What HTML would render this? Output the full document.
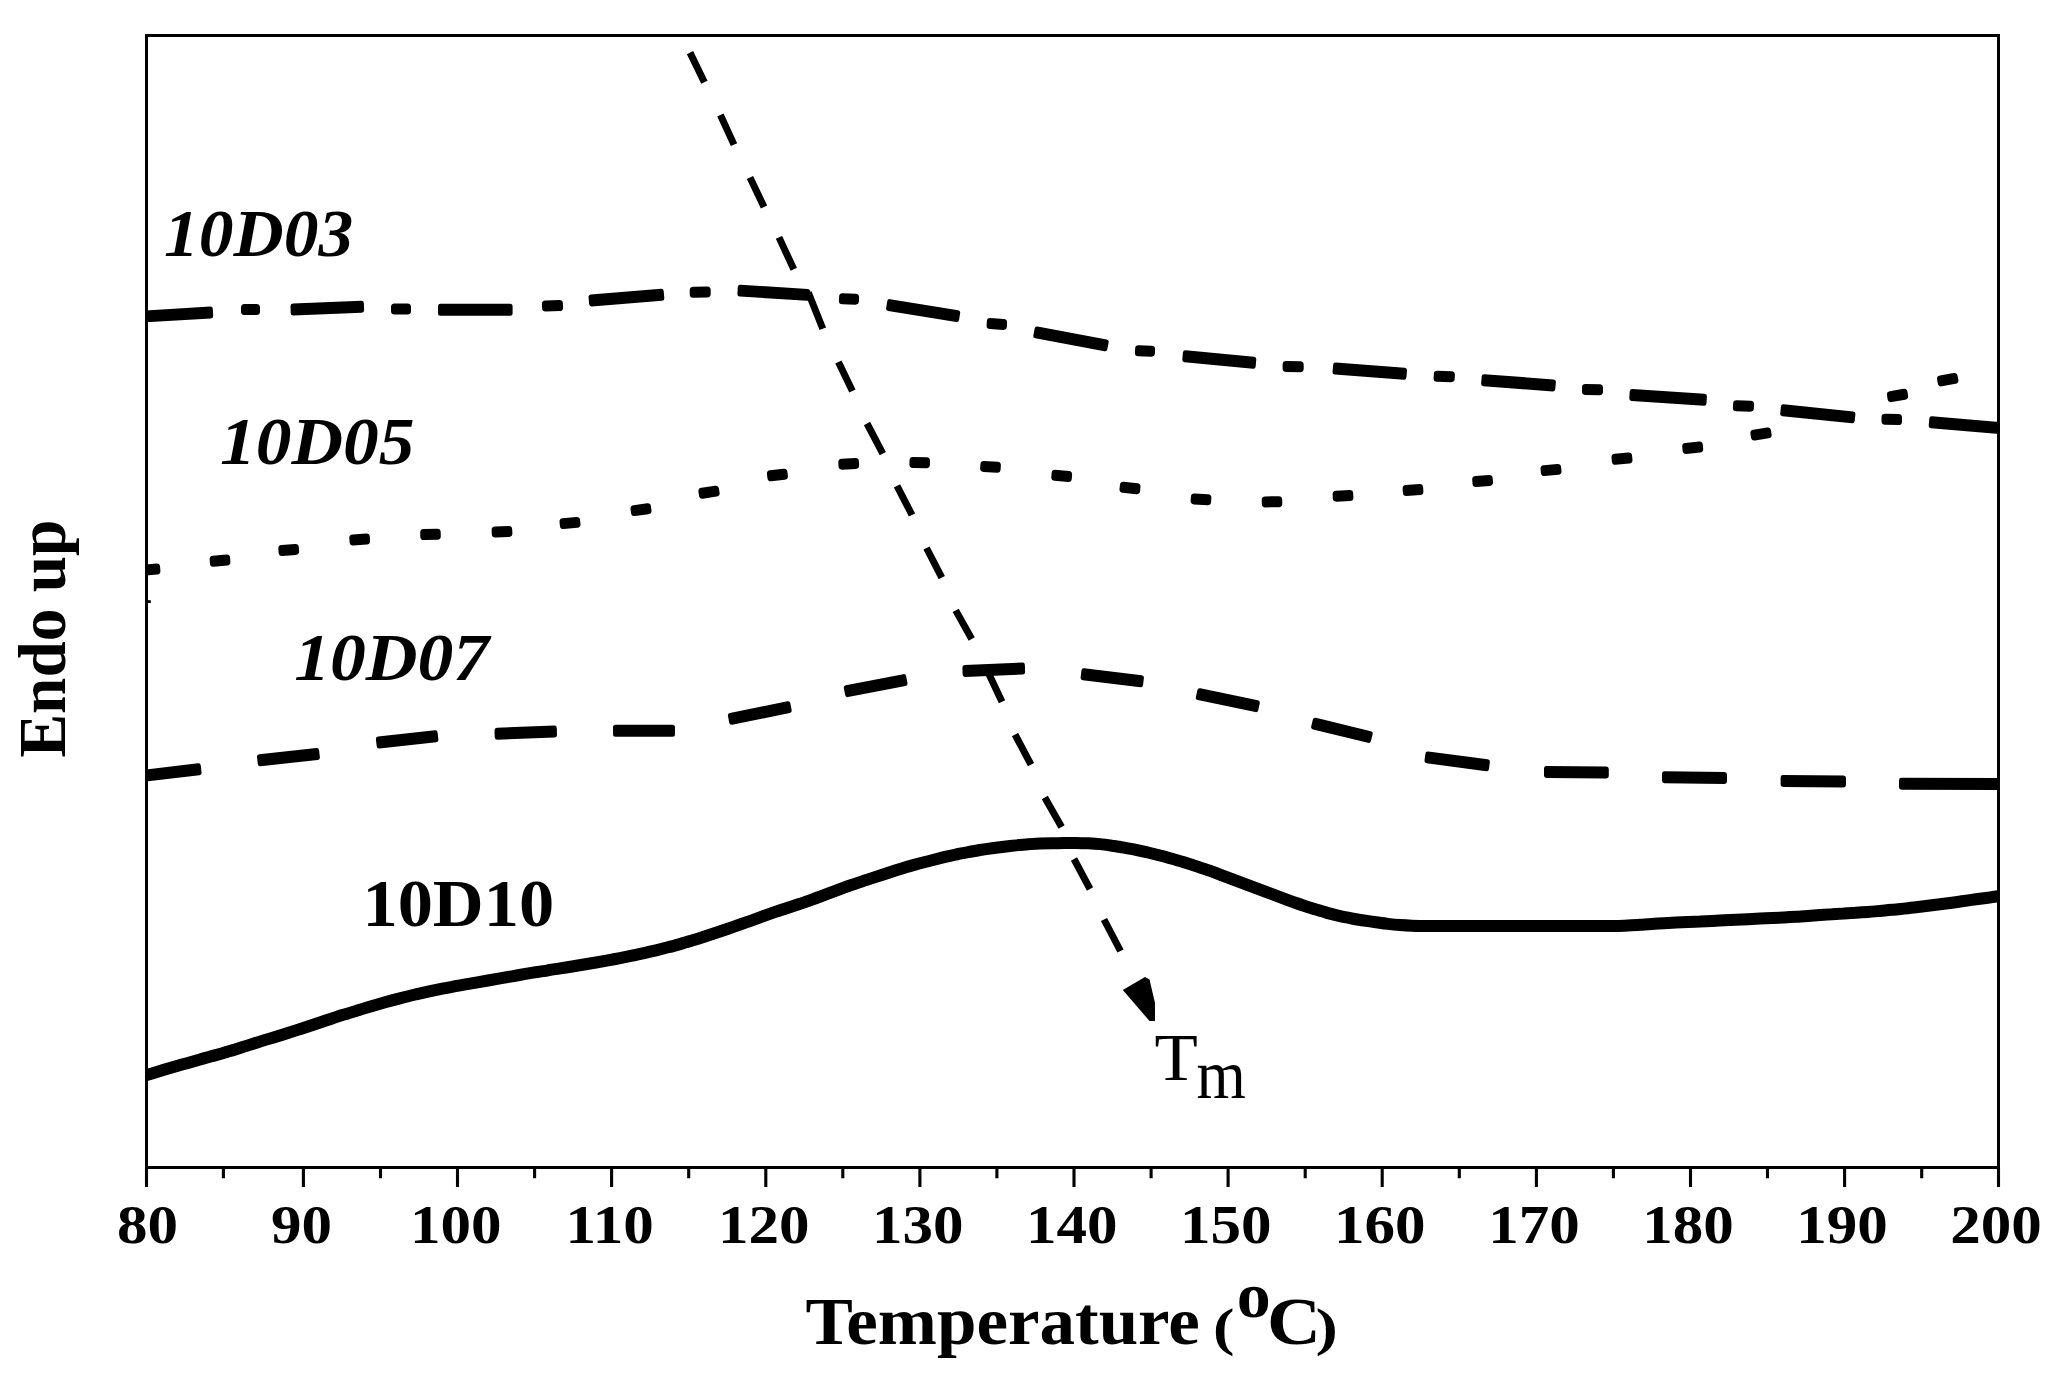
<!DOCTYPE html>
<html lang="en"><head><meta charset="utf-8"><title>DSC thermograms</title>
<style>html,body{margin:0;padding:0;background:#fff}body{width:2060px;height:1379px;overflow:hidden}svg{display:block}text{font-family:"Liberation Serif","DejaVu Serif",serif;fill:#000}</style></head><body>
<svg width="2060" height="1379" viewBox="0 0 2060 1379">
<rect width="2060" height="1379" fill="#fff"/>
<rect x="146.5" y="35.5" width="1852.0" height="1132.0" fill="none" stroke="#000" stroke-width="3"/>
<path d="M146.5 1167.5V1187M223.4 1167.5V1178.2M303.4 1167.5V1187M380.5 1167.5V1178.2M457.5 1167.5V1187M534.6 1167.5V1178.2M611.6 1167.5V1187M688.7 1167.5V1178.2M765.8 1167.5V1187M842.8 1167.5V1178.2M919.9 1167.5V1187M996.9 1167.5V1178.2M1074.0 1167.5V1187M1151.1 1167.5V1178.2M1228.1 1167.5V1187M1305.2 1167.5V1178.2M1382.2 1167.5V1187M1459.3 1167.5V1178.2M1536.4 1167.5V1187M1613.4 1167.5V1178.2M1690.5 1167.5V1187M1767.5 1167.5V1178.2M1844.6 1167.5V1187M1921.7 1167.5V1178.2M1998.5 1167.5V1187" stroke="#000" stroke-width="3.1" fill="none"/>
<path d="M146.5 601.6h4.3" stroke="#000" stroke-width="2.8"/>
<g font-weight="bold" font-size="55" text-anchor="middle">
<text transform="translate(147.6 1243.4) scale(1.11 1)">80</text>
<text transform="translate(301.6 1243.4) scale(1.11 1)">90</text>
<text transform="translate(455.7 1243.4) scale(1.11 1)">100</text>
<text transform="translate(609.7 1243.4) scale(1.11 1)">110</text>
<text transform="translate(763.7 1243.4) scale(1.11 1)">120</text>
<text transform="translate(917.8 1243.4) scale(1.11 1)">130</text>
<text transform="translate(1071.8 1243.4) scale(1.11 1)">140</text>
<text transform="translate(1225.8 1243.4) scale(1.11 1)">150</text>
<text transform="translate(1379.8 1243.4) scale(1.11 1)">160</text>
<text transform="translate(1533.9 1243.4) scale(1.11 1)">170</text>
<text transform="translate(1687.9 1243.4) scale(1.11 1)">180</text>
<text transform="translate(1841.9 1243.4) scale(1.11 1)">190</text>
<text transform="translate(1996.0 1243.4) scale(1.11 1)">200</text>
</g>
<clipPath id="c"><rect x="146.5" y="35.5" width="1852.0" height="1132.0"/></clipPath>
<g clip-path="url(#c)" fill="none" stroke="#000" stroke-linecap="butt">
<path d="M140.0 1077.0C142.0 1076.4 148.0 1074.6 152.0 1073.4C156.0 1072.2 160.0 1071.0 164.0 1069.8C168.0 1068.6 172.0 1067.5 176.0 1066.3C180.0 1065.2 184.0 1064.0 188.0 1062.9C192.0 1061.8 196.0 1060.6 200.0 1059.5C204.0 1058.4 208.0 1057.3 212.0 1056.1C216.0 1055.0 220.0 1053.9 224.0 1052.7C228.0 1051.6 232.0 1050.4 236.0 1049.2C240.0 1047.9 244.0 1046.7 248.0 1045.4C252.0 1044.1 256.0 1042.9 260.0 1041.6C264.0 1040.4 268.0 1039.2 272.0 1037.9C276.0 1036.7 280.0 1035.5 284.0 1034.3C288.0 1033.0 292.0 1031.7 296.0 1030.4C300.0 1029.1 304.0 1027.8 308.0 1026.5C312.0 1025.2 316.0 1023.8 320.0 1022.5C324.0 1021.1 328.0 1019.8 332.0 1018.5C336.0 1017.2 340.0 1015.8 344.0 1014.6C348.0 1013.3 352.0 1012.1 356.0 1010.9C360.0 1009.6 364.0 1008.4 368.0 1007.2C372.0 1006.1 376.0 1004.9 380.0 1003.8C384.0 1002.7 388.0 1001.5 392.0 1000.4C396.0 999.4 400.0 998.3 404.0 997.3C408.0 996.2 412.0 995.3 416.0 994.3C420.0 993.4 424.0 992.5 428.0 991.6C432.0 990.8 436.0 990.0 440.0 989.2C444.0 988.4 448.0 987.6 452.0 986.9C456.0 986.1 460.0 985.4 464.0 984.7C468.0 984.0 472.0 983.3 476.0 982.6C480.0 981.9 484.0 981.2 488.0 980.5C492.0 979.8 496.0 979.1 500.0 978.4C504.0 977.7 508.0 977.0 512.0 976.3C516.0 975.6 520.0 974.9 524.0 974.2C528.0 973.5 532.0 972.9 536.0 972.2C540.0 971.6 544.0 971.0 548.0 970.3C552.0 969.7 556.0 969.1 560.0 968.4C564.0 967.8 568.0 967.1 572.0 966.5C576.0 965.8 580.0 965.2 584.0 964.5C588.0 963.8 592.0 963.2 596.0 962.5C600.0 961.8 604.0 961.1 608.0 960.4C612.0 959.6 616.0 958.9 620.0 958.1C624.0 957.4 628.0 956.6 632.0 955.7C636.0 954.9 640.0 954.0 644.0 953.1C648.0 952.2 652.0 951.2 656.0 950.3C660.0 949.3 664.0 948.3 668.0 947.3C672.0 946.3 676.0 945.2 680.0 944.1C684.0 943.0 688.0 941.8 692.0 940.6C696.0 939.3 700.0 938.1 704.0 936.8C708.0 935.5 712.0 934.1 716.0 932.8C720.0 931.4 724.0 930.1 728.0 928.7C732.0 927.3 736.0 925.9 740.0 924.5C744.0 923.1 748.0 921.7 752.0 920.3C756.0 918.8 760.0 917.4 764.0 915.9C768.0 914.5 772.0 913.1 776.0 911.7C780.0 910.3 784.0 909.0 788.0 907.7C792.0 906.4 796.0 905.1 800.0 903.8C804.0 902.4 808.0 901.0 812.0 899.6C816.0 898.2 820.0 896.7 824.0 895.2C828.0 893.7 832.0 892.2 836.0 890.7C840.0 889.2 844.0 887.7 848.0 886.2C852.0 884.8 856.0 883.4 860.0 882.1C864.0 880.7 868.0 879.4 872.0 878.1C876.0 876.8 880.0 875.5 884.0 874.2C888.0 872.9 892.0 871.6 896.0 870.3C900.0 869.1 904.0 867.8 908.0 866.6C912.0 865.5 916.0 864.4 920.0 863.3C924.0 862.2 928.0 861.2 932.0 860.2C936.0 859.2 940.0 858.2 944.0 857.2C948.0 856.3 952.0 855.4 956.0 854.5C960.0 853.7 964.0 852.9 968.0 852.2C972.0 851.4 976.0 850.7 980.0 850.0C984.0 849.4 988.0 848.8 992.0 848.2C996.0 847.7 1000.0 847.2 1004.0 846.7C1008.0 846.3 1012.0 845.8 1016.0 845.4C1020.0 845.0 1024.0 844.6 1028.0 844.3C1032.0 844.0 1036.0 843.8 1040.0 843.6C1044.0 843.4 1048.0 843.3 1052.0 843.3C1056.0 843.2 1060.0 843.2 1064.0 843.1C1068.0 843.1 1072.0 843.1 1076.0 843.1C1080.0 843.2 1084.0 843.2 1088.0 843.3C1092.0 843.5 1096.0 843.7 1100.0 844.1C1104.0 844.5 1108.0 845.1 1112.0 845.7C1116.0 846.2 1120.0 846.9 1124.0 847.6C1128.0 848.3 1132.0 849.0 1136.0 849.8C1140.0 850.6 1144.0 851.6 1148.0 852.5C1152.0 853.4 1156.0 854.4 1160.0 855.5C1164.0 856.5 1168.0 857.6 1172.0 858.7C1176.0 859.8 1180.0 861.0 1184.0 862.2C1188.0 863.4 1192.0 864.7 1196.0 866.1C1200.0 867.4 1204.0 868.8 1208.0 870.2C1212.0 871.6 1216.0 873.1 1220.0 874.6C1224.0 876.1 1228.0 877.6 1232.0 879.1C1236.0 880.6 1240.0 882.1 1244.0 883.6C1248.0 885.1 1252.0 886.6 1256.0 888.1C1260.0 889.6 1264.0 891.1 1268.0 892.6C1272.0 894.1 1276.0 895.6 1280.0 897.1C1284.0 898.6 1288.0 900.1 1292.0 901.6C1296.0 903.0 1300.0 904.5 1304.0 905.8C1308.0 907.1 1312.0 908.4 1316.0 909.6C1320.0 910.8 1324.0 912.0 1328.0 913.1C1332.0 914.2 1336.0 915.2 1340.0 916.1C1344.0 917.0 1348.0 917.7 1352.0 918.5C1356.0 919.2 1360.0 919.9 1364.0 920.5C1368.0 921.1 1372.0 921.7 1376.0 922.3C1380.0 922.9 1384.0 923.4 1388.0 923.9C1392.0 924.4 1396.0 924.8 1400.0 925.1C1404.0 925.4 1408.0 925.6 1412.0 925.7C1416.0 925.9 1420.0 925.9 1424.0 926.0C1428.0 926.1 1432.0 926.1 1436.0 926.1C1440.0 926.1 1444.0 926.1 1448.0 926.1C1452.0 926.1 1456.0 926.1 1460.0 926.1C1464.0 926.1 1468.0 926.1 1472.0 926.1C1476.0 926.1 1480.0 926.1 1484.0 926.1C1488.0 926.1 1492.0 926.1 1496.0 926.1C1500.0 926.1 1504.0 926.1 1508.0 926.1C1512.0 926.1 1516.0 926.1 1520.0 926.1C1524.0 926.1 1528.0 926.1 1532.0 926.1C1536.0 926.1 1540.0 926.1 1544.0 926.1C1548.0 926.1 1552.0 926.1 1556.0 926.1C1560.0 926.1 1564.0 926.1 1568.0 926.1C1572.0 926.1 1576.0 926.1 1580.0 926.1C1584.0 926.1 1588.0 926.1 1592.0 926.1C1596.0 926.1 1600.0 926.1 1604.0 926.1C1608.0 926.0 1612.0 926.0 1616.0 925.9C1620.0 925.8 1624.0 925.6 1628.0 925.4C1632.0 925.2 1636.0 925.0 1640.0 924.7C1644.0 924.5 1648.0 924.2 1652.0 923.9C1656.0 923.7 1660.0 923.4 1664.0 923.2C1668.0 923.0 1672.0 922.8 1676.0 922.6C1680.0 922.4 1684.0 922.2 1688.0 922.0C1692.0 921.8 1696.0 921.6 1700.0 921.5C1704.0 921.3 1708.0 921.1 1712.0 920.9C1716.0 920.7 1720.0 920.5 1724.0 920.3C1728.0 920.1 1732.0 920.0 1736.0 919.8C1740.0 919.6 1744.0 919.4 1748.0 919.2C1752.0 919.0 1756.0 918.8 1760.0 918.6C1764.0 918.4 1768.0 918.3 1772.0 918.1C1776.0 917.9 1780.0 917.7 1784.0 917.5C1788.0 917.2 1792.0 917.0 1796.0 916.7C1800.0 916.5 1804.0 916.2 1808.0 915.9C1812.0 915.6 1816.0 915.4 1820.0 915.1C1824.0 914.8 1828.0 914.5 1832.0 914.3C1836.0 914.0 1840.0 913.7 1844.0 913.5C1848.0 913.2 1852.0 912.9 1856.0 912.7C1860.0 912.4 1864.0 912.2 1868.0 911.9C1872.0 911.6 1876.0 911.3 1880.0 910.9C1884.0 910.6 1888.0 910.2 1892.0 909.8C1896.0 909.4 1900.0 909.1 1904.0 908.6C1908.0 908.2 1912.0 907.8 1916.0 907.3C1920.0 906.8 1924.0 906.3 1928.0 905.8C1932.0 905.3 1936.0 904.8 1940.0 904.3C1944.0 903.8 1948.0 903.2 1952.0 902.7C1956.0 902.1 1960.0 901.5 1964.0 901.0C1968.0 900.4 1972.0 899.9 1976.0 899.3C1980.0 898.8 1984.0 898.2 1988.0 897.7C1992.0 897.2 1998.0 896.3 2000.0 896.0" stroke-width="12" stroke-linecap="butt"/>
<path d="M141.9 779.5L199.1 772.8L198.3 765.8L141.1 772.5ZM260.3 763.7L317.4 757.5L316.6 750.6L259.5 756.8ZM379.2 746.0L435.9 739.7L435.1 732.7L378.4 739.0ZM497.2 737.2L554.5 735.0L554.3 728.0L497.0 730.2ZM615.5 734.3L672.5 734.3L672.5 727.3L615.5 727.3ZM731.7 722.2L789.2 710.6L787.9 703.8L730.4 715.4ZM847.6 694.6L905.0 683.5L903.7 676.6L846.3 687.7ZM965.1 674.4L1022.6 672.1L1022.4 665.1L964.9 667.4ZM1083.1 677.8L1140.6 684.7L1141.4 677.7L1083.9 670.8ZM1198.3 697.6L1255.8 709.6L1257.3 702.8L1199.8 690.8ZM1313.6 727.0L1368.5 740.4L1370.2 733.6L1315.3 720.2ZM1427.0 760.8L1486.5 768.7L1487.4 761.8L1427.9 753.9ZM1546.5 775.5L1606.3 776.0L1606.3 769.0L1546.5 768.5ZM1664.5 780.8L1724.5 781.5L1724.5 774.5L1664.5 773.8ZM1783.1 784.5L1843.5 785.0L1843.5 778.0L1783.1 777.5ZM1901.5 787.3L2007.5 787.5L2007.5 780.5L1901.5 780.3Z" fill="#000" stroke-width="5.0" stroke-linejoin="round"/>
<path d="M141.7 320.1L210.7 315.9L210.3 309.0L141.3 313.2ZM293.2 313.1L361.6 310.3L361.4 303.3L293.0 306.1ZM440.5 313.2L510.1 313.2L510.1 306.2L440.5 306.2ZM591.6 303.9L661.8 298.3L661.2 291.3L591.0 296.9ZM739.9 294.1L807.3 298.3L807.7 291.4L740.3 287.2ZM888.6 308.5L956.6 319.6L957.7 312.7L889.7 301.6ZM1035.8 335.9L1104.9 348.8L1106.2 341.9L1037.1 329.0ZM1184.8 359.7L1253.2 366.2L1253.8 359.3L1185.4 352.8ZM1335.0 372.1L1403.9 377.3L1404.5 370.3L1335.6 365.1ZM1483.6 383.7L1552.8 388.9L1553.4 381.9L1484.2 376.7ZM1631.8 398.4L1704.0 403.3L1704.4 396.3L1632.2 391.4ZM1782.7 413.7L1852.2 420.8L1852.9 413.9L1783.4 406.8ZM1931.2 425.7L2007.2 432.3L2007.8 425.3L1931.8 418.7Z" fill="#000" stroke-width="5.0" stroke-linejoin="round"/>
<path d="M244.5 311.6L256.5 311.6L256.5 307.6L244.5 307.6ZM394.5 311.0L407.5 311.0L407.5 307.0L394.5 307.0ZM545.6 308.0L559.6 307.6L559.4 303.6L545.4 304.0ZM693.2 294.3L707.2 294.1L707.2 290.1L693.2 290.3ZM842.4 300.8L855.4 301.2L855.6 297.2L842.6 296.8ZM990.1 325.6L1003.4 326.4L1003.6 322.4L990.3 321.6ZM1138.4 352.8L1151.4 353.2L1151.6 349.2L1138.6 348.8ZM1286.1 368.5L1300.2 368.8L1300.2 364.8L1286.1 364.5ZM1437.1 378.3L1451.2 378.7L1451.4 374.7L1437.3 374.3ZM1585.5 391.5L1599.5 391.8L1599.5 387.8L1585.5 387.5ZM1736.4 407.8L1750.4 408.2L1750.6 404.2L1736.6 403.8ZM1885.0 421.2L1898.5 421.6L1898.5 417.6L1885.0 417.2Z" fill="#000" stroke-width="7" stroke-linejoin="round"/>
<path d="M143.4 572.1L156.9 571.1L156.6 567.1L143.1 568.1ZM213.4 563.2L226.9 562.0L226.6 558.0L213.1 559.2ZM282.1 552.6L295.6 551.4L295.3 547.4L281.8 548.6ZM353.1 541.9L366.6 541.0L366.3 537.1L352.8 538.0ZM423.8 536.6L437.3 536.2L437.2 532.2L423.7 532.6ZM495.3 534.0L508.9 533.4L508.7 529.4L495.1 530.0ZM563.4 525.6L577.0 524.3L576.6 520.4L563.0 521.7ZM634.5 512.6L648.0 510.8L647.5 506.8L634.0 508.6ZM702.5 495.2L716.1 493.1L715.5 489.2L701.9 491.3ZM770.9 477.8L784.4 476.2L783.9 472.2L770.4 473.8ZM842.0 466.2L855.6 465.4L855.4 461.4L841.8 462.2ZM912.9 464.5L926.4 464.7L926.5 460.7L913.0 460.5ZM983.6 468.4L997.1 469.2L997.4 465.2L983.9 464.4ZM1054.8 477.2L1068.3 478.4L1068.6 474.4L1055.1 473.2ZM1123.0 489.3L1136.6 490.7L1137.0 486.7L1123.4 485.3ZM1194.1 500.9L1207.6 501.7L1207.9 497.7L1194.4 496.9ZM1265.3 503.9L1278.8 503.7L1278.7 499.7L1265.2 499.9ZM1336.3 498.2L1349.9 497.6L1349.7 493.6L1336.1 494.2ZM1406.4 492.4L1419.9 491.6L1419.6 487.6L1406.1 488.4ZM1476.0 483.6L1489.5 482.4L1489.2 478.4L1475.7 479.6ZM1544.4 472.6L1558.0 471.3L1557.6 467.4L1544.0 468.7ZM1615.4 461.3L1629.0 460.1L1628.6 456.1L1615.0 457.3ZM1686.1 450.5L1699.7 449.1L1699.3 445.1L1685.7 446.5ZM1754.5 437.0L1768.1 434.9L1767.5 431.0L1753.9 433.1ZM1891.0 398.6L1904.6 396.2L1904.0 392.2L1890.4 394.6ZM1941.3 382.9L1954.9 380.4L1954.1 376.5L1940.5 379.0Z" fill="#000" stroke-width="7" stroke-linejoin="round"/>
<path d="M690.0 52.6L704.4 82.2M720.4 115.0L734.0 144.6M750.0 177.4L764.0 207.0M779.0 237.4L793.8 269.3M808.3 292.5L822.8 328.8M838.4 362.0L852.4 391.0M867.0 423.5L882.8 453.6M897.0 485.8L912.0 515.0M926.5 548.0L941.8 577.7M955.7 610.4L971.7 639.0M987.0 670.0L1002.0 701.7M1015.0 734.5L1031.0 764.7M1044.8 797.5L1061.6 827.0M1074.0 859.0L1090.0 889.0M1104.0 919.5L1120.5 951.0" stroke-width="7" stroke-linecap="butt"/>
<path d="M1122.8 990L1145 977L1149.5 979.5L1155 1003L1155 1021L1149.5 1021Z" fill="#000" stroke="none"/>
</g>
<g font-weight="bold" font-size="67">
<text font-style="italic" transform="translate(164 256) scale(1.037 1)">10D03</text>
<text font-style="italic" transform="translate(220 464) scale(1.066 1)">10D05</text>
<text font-style="italic" transform="translate(294.2 679.8) scale(1.069 1)">10D07</text>
<text transform="translate(362.4 926.4) scale(1.052 1)">10D10</text>
</g>
<text font-size="67.7" transform="translate(1154.5 1080) scale(1.047 1)">T</text>
<text font-size="69.7" transform="translate(1196.4 1097.5) scale(0.91 1)">m</text>
<g font-weight="bold">
<text font-size="67" transform="translate(805.5 1343.8) scale(1.06 1)">Temperature</text>
<text font-size="52.4" transform="translate(1213 1344.6) scale(1.23 1)">(</text>
<text font-size="62.5" transform="translate(1236.7 1316.6) scale(1.085 1)">o</text>
<text font-size="67" transform="translate(1267 1343.5) scale(1.115 1)">C</text>
<text font-size="52.4" transform="translate(1315.6 1344.6) scale(1.28 1)">)</text>
<text font-size="60" transform="translate(65 757.5) rotate(-90) scale(1.089 1.12)">Endo up</text>
</g>
</svg></body></html>
